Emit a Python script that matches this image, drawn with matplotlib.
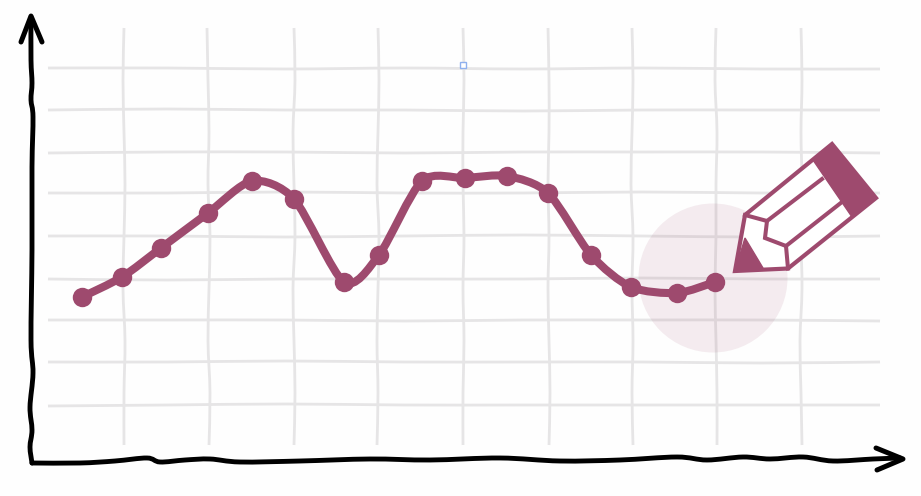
import matplotlib
matplotlib.use("Agg")
import matplotlib.pyplot as plt
import numpy as np
from matplotlib.path import Path
from matplotlib.patches import PathPatch, Polygon, Circle, Rectangle

# Series (pixel-space axes)
series_x = [82, 122, 161, 208, 252, 294, 344, 379, 422, 465, 507, 548, 591, 631, 677, 715]
series_y = [297, 277, 248, 213, 181, 199, 282, 255, 181, 178, 176, 193, 255, 287, 293, 282]

# Hand-drawn grid, wobble offsets
h_levels = [68, 110, 152, 193, 236, 279, 320, 362, 405]
h_wobble = [
    [0, 0, 1, 0, 1, 0, 1, 1],
    [0, -1, 0, 0, 1, 0, 0, 0],
    [1, 0, 0, 1, 0, 0, 0, 1],
    [0, 0, -1, 0, 0, -1, 0, 0],
    [0, 0, 1, 0, -1, 0, 1, 0],
    [0, 1, 0, 0, 0, -1, 0, 0],
    [0, 0, 0, 1, 0, 0, 0, 1],
    [0, 0, -1, 0, 0, 0, 1, 0],
    [1, 0, -1, 0, 0, 0, 0, 0],
]
v_levels = [124, 208, 294, 378, 463, 548, 632, 716, 801]
v_wobble = [
    [0, -1, 0, 1, 0, -1, 1, 0, 0],
    [-1, 0, 1, 0, 2, 1, 0, 2, 1],
    [0, 1, -1, 0, 1, -1, 0, 1, 0],
    [0, 1, 0, -1, 1, 0, -1, 0, -1],
    [0, 1, 0, 0, 1, 0, 1, 0, 0],
    [0, 1, 1, 0, 1, 0, 1, 2, 1],
    [0, 1, 0, -1, 1, 0, 1, 0, 1],
    [0, -1, 1, 0, 0, -1, 0, 1, 1],
    [0, 1, 0, 1, 0, 1, -1, 0, 1],
]
grid_h_span = [48, 880]
grid_v_span = [28, 445]

# Hand-drawn axes
y_axis_x = [31, 31, 32, 31, 33, 32, 32, 31, 33, 30, 32, 30, 32]
y_axis_y = [18, 60, 83, 100, 117, 167, 250, 340, 373, 407, 430, 447, 463]
x_axis_x = [32, 80, 115, 147, 160, 185, 210, 240, 300, 370, 430, 500, 560, 620, 677, 707, 743, 770, 803, 833, 873, 900]
x_axis_y = [463, 463, 461, 458, 462, 460, 459, 462, 461, 459, 460, 458, 461, 460, 457, 460, 457, 459, 457, 461, 459, 458]

# Pencil outline
pencil_body_x = [735, 745, 832, 876, 788]
pencil_body_y = [271, 215, 144, 198, 268.5]
pencil_band_x = [813, 832, 876, 852]
pencil_band_y = [160, 144, 198, 217]
pencil_tip_x = [735, 745, 763]
pencil_tip_y = [271, 238, 268]
pencil_collar_x = [745, 767, 765, 786, 788]
pencil_collar_y = [215, 221, 238, 246, 268.5]
pencil_rib1_x = [767, 822]
pencil_rib1_y = [221, 179]
pencil_rib2_x = [786, 842]
pencil_rib2_y = [246, 202]

PURPLE = "#9e4a6e"
AXIS = "#000000"
GRID = "#e6e5e6"


def smooth(xs, ys, tension=6.0):
    """Catmull-Rom path through the given points, as Bezier segments."""
    p = np.column_stack([xs, ys]).astype(float)
    ext = np.vstack([p[0], p, p[-1]])
    verts, codes = [p[0]], [Path.MOVETO]
    for i in range(1, len(ext) - 2):
        c1 = ext[i] + (ext[i + 1] - ext[i - 1]) / tension
        c2 = ext[i + 1] - (ext[i + 2] - ext[i]) / tension
        verts += [c1, c2, ext[i + 1]]
        codes += [Path.CURVE4] * 3
    return Path(verts, codes)


fig = plt.figure(figsize=(9.21, 4.96), dpi=100, facecolor="#fefefe")
ax = fig.add_axes([0, 0, 1, 1])
ax.set_xlim(0, 921)
ax.set_ylim(496, 0)
ax.axis("off")

for level, w in zip(h_levels, h_wobble):
    xs = np.linspace(*grid_h_span, len(w))
    ax.add_patch(PathPatch(smooth(xs, np.add(level, w)), fc="none", ec=GRID, lw=2.0, zorder=1))
for level, w in zip(v_levels, v_wobble):
    ys = np.linspace(*grid_v_span, len(w))
    ax.add_patch(PathPatch(smooth(np.add(level, w), ys), fc="none", ec=GRID, lw=2.0, zorder=1))

ax.add_patch(Circle((713, 278), 74.5, fc=PURPLE, ec="none", alpha=0.10, zorder=2))

ax.add_patch(PathPatch(smooth(y_axis_x, y_axis_y), fc="none", ec=AXIS, lw=3.5, capstyle="round", zorder=3))
ax.add_patch(PathPatch(smooth(x_axis_x, x_axis_y), fc="none", ec=AXIS, lw=3.5, capstyle="round", zorder=3))
ax.plot([21, 31, 42], [42, 16, 42], color=AXIS, lw=3.6, solid_capstyle="round", solid_joinstyle="round", zorder=3)
ax.plot([876, 903, 877], [448, 459, 470], color=AXIS, lw=3.6, solid_capstyle="round", solid_joinstyle="round", zorder=3)

ax.add_patch(PathPatch(smooth(series_x, series_y, tension=7.5), fc="none", ec=PURPLE, lw=5.8, zorder=4))
ax.plot(series_x, series_y, ls="none", marker="o", ms=14.0, mfc=PURPLE, mec="none", zorder=5)

# Pencil
ax.add_patch(Polygon(np.column_stack([pencil_body_x, pencil_body_y]), closed=True, fc="white", ec=PURPLE,
                     lw=3.0, joinstyle="miter", zorder=6))
ax.add_patch(Polygon(np.column_stack([pencil_band_x, pencil_band_y]), closed=True, fc=PURPLE, ec=PURPLE,
                     lw=1, zorder=7))
ax.add_patch(Polygon(np.column_stack([pencil_tip_x, pencil_tip_y]), closed=True, fc=PURPLE, ec=PURPLE,
                     lw=1, zorder=7))
ax.plot(pencil_collar_x, pencil_collar_y, color=PURPLE, lw=2.9, solid_joinstyle="miter", zorder=7)
ax.plot(pencil_rib1_x, pencil_rib1_y, color=PURPLE, lw=2.9, zorder=7)
ax.plot(pencil_rib2_x, pencil_rib2_y, color=PURPLE, lw=2.9, zorder=7)

# Selection handle
ax.add_patch(Rectangle((460, 62), 6, 6, fc="white", ec="#8fb0ee", lw=1.0, zorder=8))

fig.savefig("out.png", dpi=100, facecolor=fig.get_facecolor())
